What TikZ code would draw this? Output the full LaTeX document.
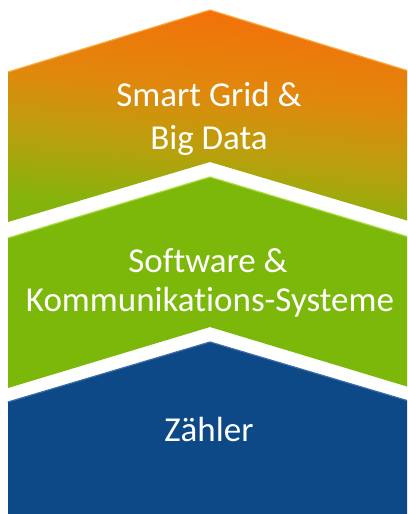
\documentclass[tikz,border=0pt]{standalone}
\usepackage{fontspec}
\setmainfont{Carlito}[Ligatures={NoCommon}]
\definecolor{orangetop}{RGB}{242,114,10}
\definecolor{orangemid}{RGB}{225,136,12}
\definecolor{mustard}{RGB}{185,160,12}
\definecolor{greenbot}{RGB}{132,180,12}
\definecolor{midgreen}{RGB}{124,184,10}
\definecolor{lightgreen}{RGB}{170,220,60}
\definecolor{lightorange}{RGB}{250,170,60}
\definecolor{zblue}{RGB}{12,73,134}
\definecolor{lightblue}{RGB}{60,110,170}
\pgfdeclareverticalshading{topgrad}{100bp}{%
  color(0bp)=(greenbot); color(28bp)=(greenbot); color(42bp)=(mustard);
  color(56bp)=(orangemid); color(72bp)=(orangetop); color(100bp)=(orangetop)}
\tikzset{
  label/.style={text=white, font=\fontsize{35}{40}\selectfont, inner sep=0pt, anchor=base},
  edgehi/.style={line width=1.2pt, line cap=round},
}
\begin{document}
\begin{tikzpicture}[x=1pt,y=1pt]
\useasboundingbox (0,0) rectangle (407,514);
\fill[white] (0,0) rectangle (407,514);
\clip (0,0) rectangle (407,514);
% top block
\shade[shading=topgrad, shading angle=-6]
  (8,442) -- (210,504) -- (412,442) -- (412,292) -- (210,352) -- (8,292) -- cycle;
\draw[edgehi, lightorange] (8,442) -- (210,504) -- (412,442);
% middle block
\fill[midgreen]
  (8,276) -- (210,337) -- (412,276) -- (412,126) -- (210,187) -- (8,126) -- cycle;
\draw[edgehi, lightgreen] (8,276) -- (210,337) -- (412,276);
% bottom block
\fill[zblue]
  (8,112) -- (210,172) -- (412,112) -- (412,-5) -- (8,-5) -- cycle;
\draw[edgehi, lightblue] (8,112) -- (210,172) -- (412,112);
% texts
\node[label] (t1) at (209,407) {Smart Grid \&};
\node[label] (t2) at (209,364) {Big Data};
\node[label] (m1) at (208,241) {Software \&};
\node[label] (m2) at (210,202) {Kommunikations-Systeme};
\node[label] (b1) at (209,72) {Zähler};
\end{tikzpicture}
\end{document}
